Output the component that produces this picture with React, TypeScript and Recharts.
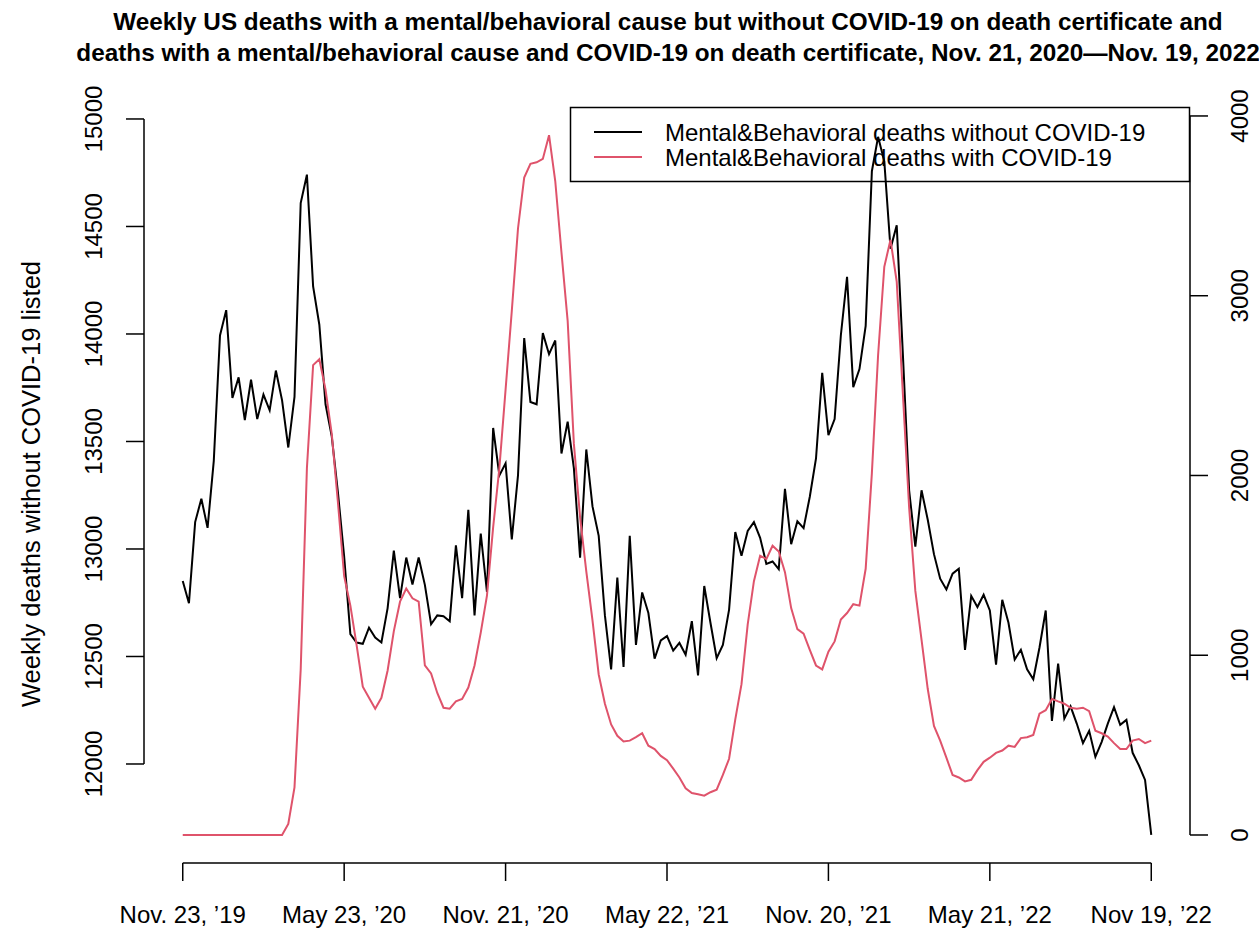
import React from 'react';
import { LineChart, Line, XAxis, YAxis, ReferenceLine } from 'recharts';

const W = 1259;
const H = 928;
const PLOT_L = 144;
const PLOT_R = 1190;
const PLOT_T = 105;
const PLOT_B = 863;
const FONT = '"Liberation Sans", Arial, Helvetica, sans-serif';
const RED = '#DF536B';

// Weekly deaths, Nov. 23 2019 .. Nov. 19 2022 (157 weeks)
const withoutCovid = [
  12851, 12748, 13125, 13234, 13098, 13410, 13993, 14111, 13702, 13798,
  13600, 13787, 13604, 13718, 13645, 13830, 13691, 13472, 13707, 14609,
  14741, 14221, 14043, 13673, 13524, 13262, 12965, 12604, 12565, 12559,
  12634, 12588, 12565, 12725, 12992, 12771, 12960, 12835, 12960, 12833,
  12650, 12691, 12687, 12664, 13017, 12771, 13182, 12691, 13072, 12800,
  13563, 13342, 13398, 13045, 13342, 13981, 13684, 13673, 14004, 13906,
  13970, 13444, 13592, 13376, 12960, 13463, 13198, 13061, 12691, 12440,
  12867, 12451, 13061, 12554, 12798, 12702, 12490, 12575, 12595, 12527,
  12563, 12508, 12664, 12412, 12828, 12657, 12492, 12554, 12718, 13079,
  12969, 13084, 13125, 13052, 12931, 12942, 12906, 13280, 13022, 13129,
  13097, 13243, 13421, 13819, 13529, 13604, 13993, 14266, 13753, 13837,
  14038, 14757, 14917, 14803, 14397, 14506, 13901, 13273, 13011, 13273,
  13136, 12976, 12862, 12812, 12885, 12908, 12531, 12782, 12730, 12787,
  12714, 12462, 12764, 12657, 12486, 12531, 12440, 12394, 12542, 12714,
  12200, 12467, 12211, 12268, 12188, 12097, 12154, 12033, 12102, 12188,
  12264, 12182, 12205, 12052, 11994, 11926, 11670,
];

const withCovid = [
  0, 0, 0, 0, 0, 0, 0, 0, 0, 0,
  0, 0, 0, 0, 0, 0, 0, 61, 265, 921,
  2041, 2614, 2647, 2478, 2232, 1849, 1440, 1276, 1058, 825,
  763, 703, 763, 915, 1134, 1298, 1371, 1317, 1298, 943,
  899, 790, 708, 703, 743, 757, 820, 943, 1126, 1331,
  1713, 2041, 2478, 2915, 3374, 3657, 3734, 3742, 3761, 3893,
  3638, 3242, 2860, 2177, 1767, 1467, 1194, 893, 730, 615,
  552, 520, 525, 544, 566, 497, 478, 440, 416, 369,
  320, 260, 233, 227, 219, 238, 252, 334, 424, 643,
  839, 1172, 1412, 1554, 1535, 1609, 1577, 1462, 1262, 1145,
  1120, 1030, 943, 921, 1020, 1077, 1199, 1235, 1284, 1276,
  1481, 2013, 2669, 3161, 3311, 3079, 2450, 1822, 1358, 1085,
  812, 607, 525, 430, 334, 320, 298, 307, 361, 407,
  430, 457, 470, 497, 490, 539, 544, 557, 675, 694,
  757, 743, 730, 708, 703, 708, 689, 580, 566, 547,
  511, 478, 478, 525, 534, 511, 525,
];

const xTickIndex = [0, 26, 52, 78, 104, 130, 156];
const xTickLabels = [
  'Nov. 23, \u201919',
  'May 23, \u201920',
  'Nov. 21, \u201920',
  'May 22, \u201921',
  'Nov. 20, \u201921',
  'May 21, \u201922',
  'Nov 19, \u201922',
];
const leftTicks = [12000, 12500, 13000, 13500, 14000, 14500, 15000];
const rightTicks = [0, 1000, 2000, 3000, 4000];

const titleLines = [
  'Weekly US deaths with a mental/behavioral cause but without COVID-19 on death certificate and',
  'deaths with a mental/behavioral cause and COVID-19 on death certificate, Nov. 21, 2020\u2014Nov. 19, 2022',
];
const leftAxisTitle = 'Weekly deaths without COVID-19 listed';
const seriesNames = [
  'Mental&Behavioral deaths without COVID-19',
  'Mental&Behavioral deaths with COVID-19',
];

const X_DOMAIN: [number, number] = [-6.24, 162.24];
const LEFT_DOMAIN: [number, number] = [11539.5, 15065];
const RIGHT_DOMAIN: [number, number] = [-155.8, 4061];

const data = withoutCovid.map((v, i) => ({ week: i, without: v, with: withCovid[i] }));

const XTick = (props: any) => {
  const { x, payload } = props;
  const idx = xTickIndex.indexOf(payload.value);
  return (
    <g>
      <line x1={x} y1={PLOT_B} x2={x} y2={PLOT_B + 18} stroke="#000" strokeWidth={1.5} />
      <text x={x} y={923} textAnchor="middle" fontFamily={FONT} fontSize={24} fill="#000">
        {xTickLabels[idx]}
      </text>
    </g>
  );
};

const LeftTick = (props: any) => {
  const { y, payload } = props;
  const tx = 102;
  return (
    <g>
      <line x1={PLOT_L - 18} y1={y} x2={PLOT_L} y2={y} stroke="#000" strokeWidth={1.5} />
      <text x={tx} y={y} transform={`rotate(-90, ${tx}, ${y})`} textAnchor="middle"
        fontFamily={FONT} fontSize={24} fill="#000">{payload.value}</text>
    </g>
  );
};

const RightTick = (props: any) => {
  const { y, payload } = props;
  const tx = 1248.5;
  return (
    <g>
      <line x1={PLOT_R} y1={y} x2={PLOT_R + 18} y2={y} stroke="#000" strokeWidth={1.5} />
      <text x={tx} y={y} transform={`rotate(-90, ${tx}, ${y})`} textAnchor="middle"
        fontFamily={FONT} fontSize={24} fill="#000">{payload.value}</text>
    </g>
  );
};

export default function App() {
  return (
    <div style={{ position: 'absolute', left: 0, top: 0, width: W, height: H, background: '#fff', overflow: 'hidden' }}>
      <LineChart width={W} height={H} data={data} margin={{ top: PLOT_T, right: 0, bottom: 0, left: 0 }}>
        <XAxis dataKey="week" type="number" domain={X_DOMAIN} allowDataOverflow ticks={xTickIndex}
          interval={0} axisLine={false} tickLine={false} height={H - PLOT_B} tick={<XTick />} />
        <YAxis yAxisId="left" domain={LEFT_DOMAIN} allowDataOverflow ticks={leftTicks} interval={0}
          axisLine={false} tickLine={false} width={PLOT_L} tick={<LeftTick />} />
        <YAxis yAxisId="right" orientation="right" domain={RIGHT_DOMAIN} allowDataOverflow ticks={rightTicks}
          interval={0} axisLine={false} tickLine={false} width={W - PLOT_R} tick={<RightTick />} />
        <ReferenceLine yAxisId="left" ifOverflow="visible" stroke="#000" strokeWidth={1.5}
          segment={[{ x: X_DOMAIN[0], y: leftTicks[0] }, { x: X_DOMAIN[0], y: leftTicks[leftTicks.length - 1] }]} />
        <ReferenceLine yAxisId="right" ifOverflow="visible" stroke="#000" strokeWidth={1.5}
          segment={[{ x: X_DOMAIN[1], y: rightTicks[0] }, { x: X_DOMAIN[1], y: rightTicks[rightTicks.length - 1] }]} />
        <ReferenceLine yAxisId="left" ifOverflow="visible" stroke="#000" strokeWidth={1.5}
          segment={[{ x: xTickIndex[0], y: LEFT_DOMAIN[0] }, { x: xTickIndex[xTickIndex.length - 1], y: LEFT_DOMAIN[0] }]} />
        <Line yAxisId="left" type="linear" dataKey="without" name={seriesNames[0]} stroke="#000"
          strokeWidth={2} dot={false} isAnimationActive={false} />
        <Line yAxisId="right" type="linear" dataKey="with" name={seriesNames[1]} stroke={RED}
          strokeWidth={2} dot={false} isAnimationActive={false} />
      </LineChart>
      <svg width={W} height={H} style={{ position: 'absolute', left: 0, top: 0, pointerEvents: 'none' }}>
        <text x={668} y={29.5} textAnchor="middle" fontFamily={FONT} fontWeight="bold" fontSize={24.3} fill="#000">
          {titleLines[0]}
        </text>
        <text x={668} y={61} textAnchor="middle" fontFamily={FONT} fontWeight="bold" fontSize={24.3} fill="#000">
          {titleLines[1]}
        </text>
        <text x={40} y={484} transform="rotate(-90, 40, 484)" textAnchor="middle" fontFamily={FONT}
          fontSize={25.5} fill="#000">{leftAxisTitle}</text>
        <rect x={570.5} y={107.5} width={619} height={74} fill="none" stroke="#000" strokeWidth={1.5} />
        <line x1={594} y1={132} x2={642} y2={132} stroke="#000" strokeWidth={2} />
        <line x1={594} y1={157} x2={642} y2={157} stroke={RED} strokeWidth={2} />
        <text x={665} y={140.5} fontFamily={FONT} fontSize={24} fill="#000">{seriesNames[0]}</text>
        <text x={665} y={165.5} fontFamily={FONT} fontSize={24} fill="#000">{seriesNames[1]}</text>
      </svg>
    </div>
  );
}
